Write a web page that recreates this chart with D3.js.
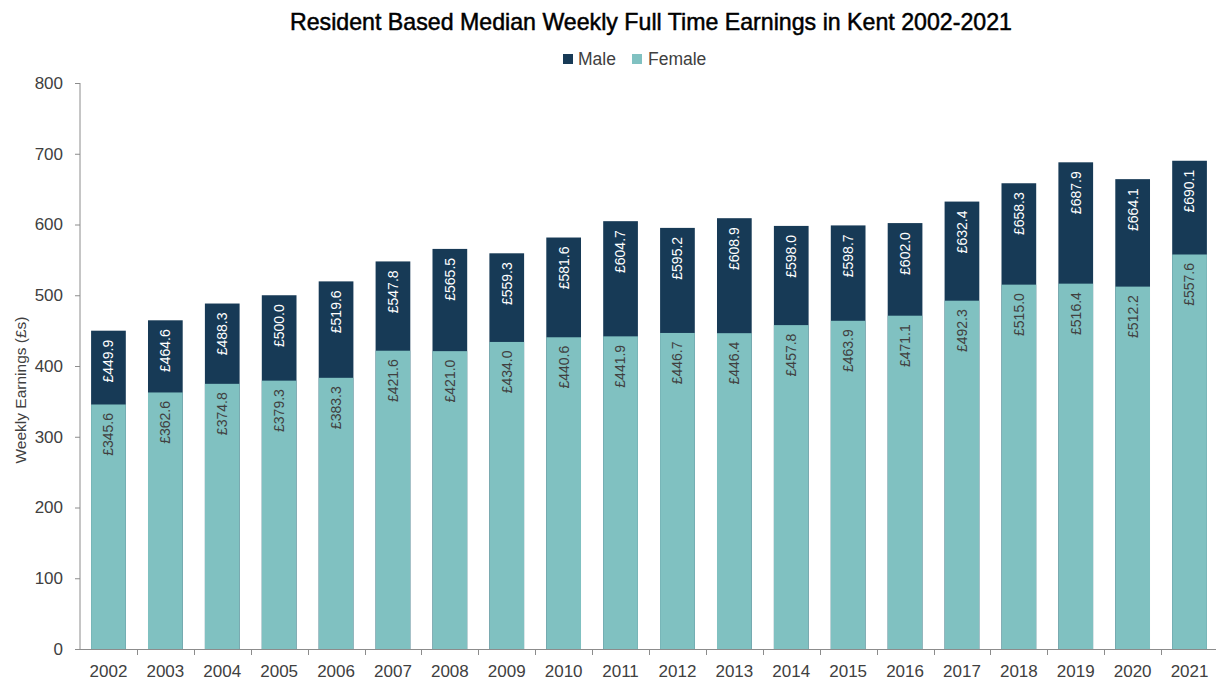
<html>
<script src='https://d3js.org/d3.v7.min.js'></script>
<style>
body {margin:0; background:#fff;}
text {font-family: "Liberation Sans", Arial, sans-serif;}
.axis text {fill:#404040; font-size:17px;}
.axis path, .axis line {stroke:#8c8c8c;}
</style>
<body>
<svg width=1216 height=681></svg>
<script>
var years = ["2002","2003","2004","2005","2006","2007","2008","2009","2010","2011","2012","2013","2014","2015","2016","2017","2018","2019","2020","2021"]
var male = [449.9,464.6,488.3,500.0,519.6,547.8,565.5,559.3,581.6,604.7,595.2,608.9,598.0,598.7,602.0,632.4,658.3,687.9,664.1,690.1]
var female = [345.6,362.6,374.8,379.3,383.3,421.6,421.0,434.0,440.6,441.9,446.7,446.4,457.8,463.9,471.1,492.3,515.0,516.4,512.2,557.6]
var yTicks = [0,100,200,300,400,500,600,700,800]

var svg = d3.select("svg")
var x = d3.scaleBand().domain(years).range([80, 1218]).paddingInner(0.39).paddingOuter(0.195)
var y = d3.scaleLinear().domain([0,800]).range([649, 83])
var maleCol = "#173a56", femCol = "#80c1c1"

svg.append("g").attr("class","axis").attr("transform","translate(80,0)")
  .call(d3.axisLeft(y).tickValues(yTicks).tickSize(5).tickPadding(12))
  .select(".domain").attr("d","M0,83V649")

// x axis: ticks between categories
var xa = svg.append("g").attr("class","axis")
xa.append("line").attr("x1",75).attr("x2",1218).attr("y1",649.5).attr("y2",649.5).attr("stroke","#8c8c8c")
var step = x.step()
xa.selectAll(".tk").data(years.slice(1)).enter().append("line")
  .attr("x1", d => Math.round(x(d) - (step - x.bandwidth())/2) + 0.5)
  .attr("x2", d => Math.round(x(d) - (step - x.bandwidth())/2) + 0.5)
  .attr("y1",649).attr("y2",655).attr("stroke","#8c8c8c")
xa.selectAll(".lb").data(years).enter().append("text")
  .attr("x", d => x(d) + x.bandwidth()/2).attr("y", 677)
  .attr("text-anchor","middle").text(d => d)

var g = svg.append("g")
g.selectAll(".m").data(years).enter().append("rect")
  .attr("x", d => x(d)).attr("width", x.bandwidth())
  .attr("y", (d,i) => y(male[i])).attr("height", (d,i) => y(0) - y(male[i]))
  .attr("fill", maleCol)
g.selectAll(".f").data(years).enter().append("rect")
  .attr("x", d => x(d)).attr("width", x.bandwidth())
  .attr("y", (d,i) => y(female[i])).attr("height", (d,i) => y(0) - y(female[i]))
  .attr("fill", femCol)

function lab(vals, col, off) {
  g.selectAll(null).data(years).enter().append("text")
    .attr("transform", (d,i) => "translate(" + (x(d) + x.bandwidth()/2) + "," + (y(vals[i]) + off) + ") rotate(-90)")
    .attr("text-anchor","end").attr("dy","0.35em")
    .attr("font-size","14px").attr("fill", col)
    .text((d,i) => "£" + vals[i].toFixed(1))
}
lab(male, "#ffffff", 9)
lab(female, "#404040", 8.5)

svg.append("text").attr("x",290).attr("y",30)
  .attr("textLength",722).attr("lengthAdjust","spacingAndGlyphs")
  .attr("font-size","24px").attr("fill","#000").attr("stroke","#000").attr("stroke-width",0.5)
  .text("Resident Based Median Weekly Full Time Earnings in Kent 2002-2021")

var leg = svg.append("g")
leg.append("rect").attr("x",563).attr("y",54).attr("width",10).attr("height",10).attr("fill",maleCol)
leg.append("text").attr("x",578).attr("y",65).attr("font-size","17.5px").attr("fill","#404040").text("Male")
leg.append("rect").attr("x",632).attr("y",54).attr("width",10).attr("height",10).attr("fill",femCol)
leg.append("text").attr("x",648).attr("y",65).attr("font-size","17.5px").attr("fill","#404040").text("Female")

svg.append("text").attr("transform","translate(26,390) rotate(-90)")
  .attr("text-anchor","middle").attr("font-size","15.5px").attr("fill","#404040")
  .text("Weekly Earnings (£s)")
</script>
</body>
</html>
